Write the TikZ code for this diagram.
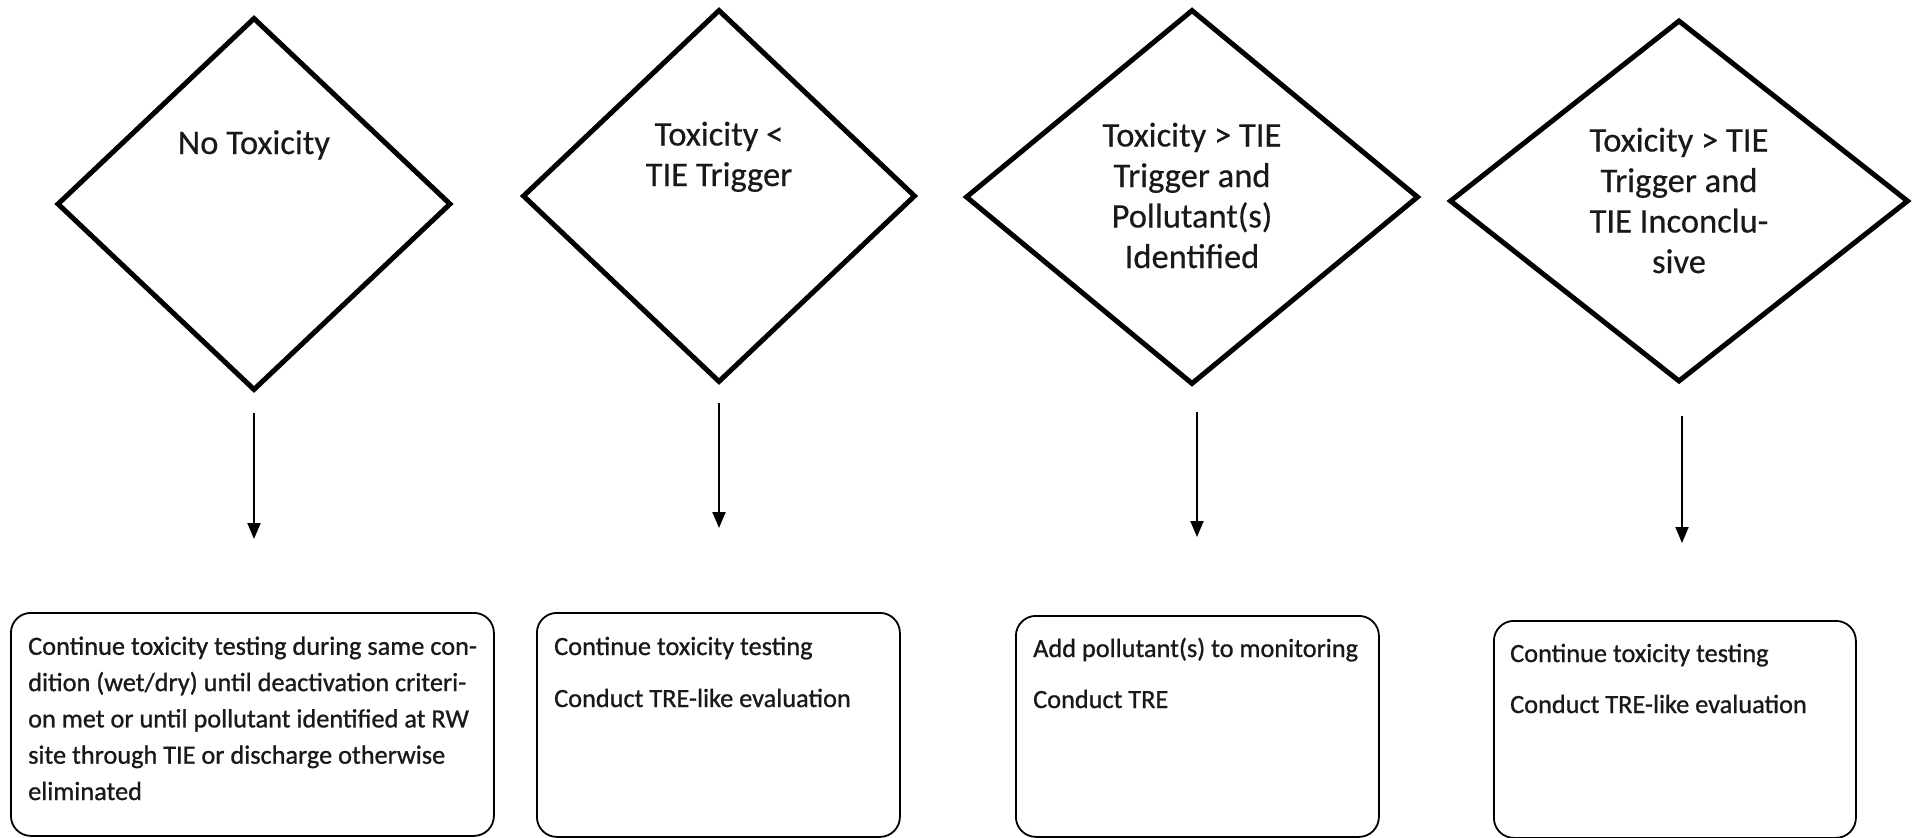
\documentclass[tikz,border=0pt]{standalone}
\usepackage{fontspec}
\setmainfont{Carlito}
\newfontfamily\boxfont[FakeBold=0.9]{Carlito}
\newfontfamily\diafont[FakeBold=0.4]{Carlito}
\usetikzlibrary{shapes.geometric,arrows.meta}
\begin{document}
\begin{tikzpicture}[x=1pt,y=-1pt,
 dia/.style={draw=black, shape=diamond, line width=5pt, inner sep=0pt, line join=miter},
 dtext/.style={font=\diafont\fontsize{34.5}{40.5}\selectfont, align=center, anchor=base, text=black!90, inner sep=0pt},
 abox/.style={draw=black, rounded corners=20pt, line width=1.8pt, inner sep=0pt, anchor=north west},
 btext/.style={font=\boxfont\fontsize{26.3}{36.3}\selectfont, align=left, anchor=base west, text=black!90, inner sep=0pt},
 arr/.style={line width=2pt, -{Triangle[length=16pt,width=13pt]}}]
\useasboundingbox (0,0) rectangle (1915,838);
\fill[white] (0,0) rectangle (1915,838);

% decision diamonds
\node[dia, minimum width=394pt, minimum height=373pt] (d1) at (254,204) {};
\node[dia, minimum width=393pt, minimum height=373pt] (d2) at (719,196) {};
\node[dia, minimum width=453pt, minimum height=375pt] (d3) at (1192,197) {};
\node[dia, minimum width=459pt, minimum height=362pt] (d4) at (1679,201) {};

% texts (anchor = baseline of the last line)
\node[dtext] (d1t) at (254,154) {No Toxicity};
\node[dtext] (d2t) at (719,186) {Toxicity <\\TIE Trigger};
\node[dtext] (d3t) at (1192,268) {Toxicity > TIE\\Trigger and\\Pollutant(s)\\Identified};
\node[dtext] (d4t) at (1679,273) {Toxicity > TIE\\Trigger and\\TIE Inconclu-\\sive};

% action boxes
\node[abox, minimum width=483pt, minimum height=223pt] (b1) at (10,612) {};
\node[abox, minimum width=363pt, minimum height=224pt] (b2) at (536,612) {};
\node[abox, minimum width=363pt, minimum height=221pt] (b3) at (1015,615) {};
\node[abox, minimum width=362pt, minimum height=217pt] (b4) at (1493,620) {};

\node[btext] (b1t) at (28,800) {Continue toxicity testing during same con-\\dition (wet/dry) until deactivation criteri-\\on met or until pollutant identified at RW\\site through TIE or discharge otherwise\\eliminated};
\node[btext] (b2t) at (554,707) {Continue toxicity testing\\[15.7pt]Conduct TRE-like evaluation};
\node[btext] (b3t) at (1033,708) {Add pollutant(s) to monitoring\\[14.7pt]Conduct TRE};
\node[btext] (b4t) at (1510,713) {Continue toxicity testing\\[14.7pt]Conduct TRE-like evaluation};

% connectors
\coordinate (a1s) at (254,413); \coordinate (a1e) at (254,539);
\coordinate (a2s) at (719,403); \coordinate (a2e) at (719,528);
\coordinate (a3s) at (1197,412); \coordinate (a3e) at (1197,537);
\coordinate (a4s) at (1682,416); \coordinate (a4e) at (1682,543);
\draw[arr] (a1s) -- (a1e);
\draw[arr] (a2s) -- (a2e);
\draw[arr] (a3s) -- (a3e);
\draw[arr] (a4s) -- (a4e);
\end{tikzpicture}
\end{document}
